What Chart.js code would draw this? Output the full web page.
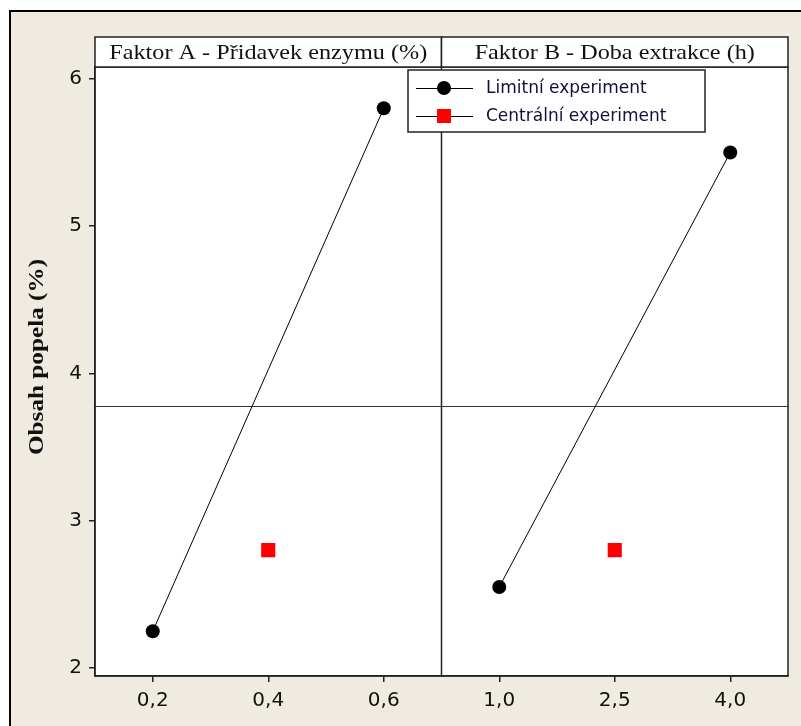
<!DOCTYPE html>
<html><head><meta charset="utf-8">
<script src="https://cdn.jsdelivr.net/npm/chart.js@4/dist/chart.umd.min.js"></script>
<style>html,body{margin:0;padding:0;background:#fff}#wrap{width:801px;height:726px;position:relative}</style>
</head><body><div id="wrap"><canvas id="c" width="801" height="726"></canvas></div>
<script>
// ---- data ----
const factorALevels = [0.2, 0.4, 0.6];
const factorBLevels = [1.0, 2.5, 4.0];
const limitAX = [0.2, 0.6];
const limitAY = [2.25, 5.8];
const centerAX = [0.4];
const centerAY = [2.8];
const limitBX = [1.0, 4.0];
const limitBY = [2.55, 5.5];
const centerBX = [2.5];
const centerBY = [2.8];
const overallMean = [3.78];
const yTickValues = [2, 3, 4, 5, 6];
const panelTitles = ['Faktor A - Přidavek enzymu (%)', 'Faktor B - Doba extrakce (h)'];
const seriesNames = ['Limitní experiment', 'Centrální experiment'];
const yTitle = 'Obsah popela (%)';

const pts = (xs, ys) => xs.map((x, i) => ({x: x, y: ys[i]}));
const fmt = v => Number(v).toFixed(1).replace('.', ',');
const tickFont = {family: '"DejaVu Sans", Verdana, sans-serif', size: 20};
const lineCol = '#222';
const serif = '"Liberation Serif", "Times New Roman", serif';

const limitStyle = {borderColor: '#000', borderWidth: 1, pointRadius: 7, pointHoverRadius: 7,
  pointBackgroundColor: '#000', pointBorderColor: '#000', pointBorderWidth: 0, showLine: true, pointStyle: 'circle'};
const centerStyle = {borderColor: '#ff0000', pointRadius: 10, pointHoverRadius: 10, pointStyle: 'rect',
  pointBackgroundColor: '#ff0000', pointBorderColor: '#ff0000', pointBorderWidth: 0, showLine: false};

function stretchedText(ctx, text, x, y, stretch, rot) {
  ctx.save();
  ctx.translate(x, y);
  ctx.rotate(rot);
  ctx.scale(stretch, 1);
  ctx.fillText(text, 0, 0);
  ctx.restore();
}

const frame = {
  id: 'frame',
  beforeDraw(chart) {
    const ctx = chart.ctx;
    ctx.save();
    ctx.fillStyle = '#ffffff';
    ctx.fillRect(0, 0, chart.width, chart.height);
    ctx.fillStyle = '#EFEBE1';
    ctx.fillRect(10, 11, chart.width, chart.height);
    ctx.fillStyle = '#000';
    ctx.fillRect(9, 10, chart.width, 2);
    ctx.fillRect(9, 10, 2, chart.height);
    const a = chart.chartArea;
    ctx.fillStyle = '#ffffff';
    ctx.fillRect(a.left, a.top, a.right - a.left, a.bottom - a.top);
    const y = Math.round(chart.scales.y.getPixelForValue(overallMean[0])) + 0.5;
    ctx.strokeStyle = '#333';
    ctx.lineWidth = 1;
    ctx.beginPath(); ctx.moveTo(a.left, y); ctx.lineTo(a.right, y); ctx.stroke();
    ctx.fillStyle = '#111';
    ctx.font = 'bold 21px ' + serif;
    ctx.textAlign = 'center';
    ctx.textBaseline = 'middle';
    stretchedText(ctx, yTitle, 38, 357, 1.2, -Math.PI / 2);
    ctx.restore();
  },
  afterDraw(chart) {
    const ctx = chart.ctx;
    const a = chart.chartArea;
    const xs = [chart.scales.xA, chart.scales.xB];
    ctx.save();
    ctx.strokeStyle = lineCol;
    ctx.lineWidth = 1.5;
    ctx.strokeRect(a.left, a.top, a.right - a.left, a.bottom - a.top);
    ctx.beginPath(); ctx.moveTo(xs[0].right, 37); ctx.lineTo(xs[0].right, a.bottom); ctx.stroke();
    const hTop = 37;
    xs.forEach((s, i) => {
      ctx.fillStyle = '#fff';
      ctx.fillRect(s.left, hTop, s.right - s.left, a.top - hTop);
      ctx.strokeRect(s.left, hTop, s.right - s.left, a.top - hTop);
      ctx.fillStyle = '#111';
      ctx.font = '22px ' + serif;
      ctx.textAlign = 'center';
      ctx.textBaseline = 'middle';
      stretchedText(ctx, panelTitles[i], (s.left + s.right) / 2, (hTop + a.top) / 2 + 1, 1.1, 0);
    });
    const lx = 408, ly = 70, lw = 297, lh = 62;
    ctx.fillStyle = '#fff';
    ctx.fillRect(lx, ly, lw, lh);
    ctx.lineWidth = 1.5;
    ctx.strokeStyle = '#222';
    ctx.strokeRect(lx, ly, lw, lh);
    const ds = chart.data.datasets;
    [ds[0], ds[1]].forEach((d, i) => {
      const cy = ly + 18 + i * 28;
      ctx.strokeStyle = '#000';
      ctx.lineWidth = 1;
      ctx.beginPath(); ctx.moveTo(lx + 8, cy + 0.5); ctx.lineTo(lx + 65, cy + 0.5); ctx.stroke();
      ctx.fillStyle = d.pointBackgroundColor;
      const mx = lx + 36;
      if (d.pointStyle === 'rect') {
        ctx.fillRect(mx - 7, cy - 7, 14, 14);
      } else {
        ctx.beginPath(); ctx.arc(mx, cy, 7, 0, Math.PI * 2); ctx.fill();
      }
      ctx.fillStyle = '#10103a';
      ctx.font = '17px "DejaVu Sans", Verdana, sans-serif';
      ctx.textAlign = 'left';
      ctx.textBaseline = 'middle';
      ctx.fillText(d.label, lx + 78, cy + 1);
    });
    ctx.restore();
  }
};

const xScale = (levels, min, max) => ({
  type: 'linear', position: 'bottom', stack: 'panels', stackWeight: 1,
  min: min, max: max,
  afterBuildTicks: s => { s.ticks = levels.map(v => ({value: v})); },
  afterFit: s => { s.height = 50; },
  grid: {display: true, drawOnChartArea: false, drawTicks: true, tickLength: 6, color: lineCol, lineWidth: 1.5},
  border: {display: true, color: lineCol, width: 1.5},
  ticks: {color: '#111', font: tickFont, padding: 7, autoSkip: false, maxRotation: 0, callback: v => fmt(v)}
});

new Chart(document.getElementById('c'), {
  type: 'scatter',
  data: {
    datasets: [
      Object.assign({label: seriesNames[0], xAxisID: 'xA', data: pts(limitAX, limitAY)}, limitStyle),
      Object.assign({label: seriesNames[1], xAxisID: 'xA', data: pts(centerAX, centerAY)}, centerStyle),
      Object.assign({label: seriesNames[0], xAxisID: 'xB', data: pts(limitBX, limitBY)}, limitStyle),
      Object.assign({label: seriesNames[1], xAxisID: 'xB', data: pts(centerBX, centerBY)}, centerStyle)
    ]
  },
  options: {
    responsive: false, animation: false, devicePixelRatio: 1,
    layout: {padding: {left: 0, top: 67, right: 13, bottom: 0}},
    plugins: {legend: {display: false}, tooltip: {enabled: false}},
    scales: {
      xA: xScale(factorALevels, 0.1, 0.7),
      xB: xScale(factorBLevels, 0.25, 4.75),
      y: {
        type: 'linear', position: 'left', min: 1.946, max: 6.08,
        afterBuildTicks: s => { s.ticks = yTickValues.map(v => ({value: v})); },
        afterFit: s => { s.width = 95; },
        grid: {display: true, drawOnChartArea: false, drawTicks: true, tickLength: 6, color: lineCol, lineWidth: 1.5},
        border: {display: true, color: lineCol, width: 1.5},
        ticks: {color: '#111', font: tickFont, padding: 7, callback: v => String(v)},
        title: {display: false}
      }
    }
  },
  plugins: [frame]
});
</script>
</body></html>
